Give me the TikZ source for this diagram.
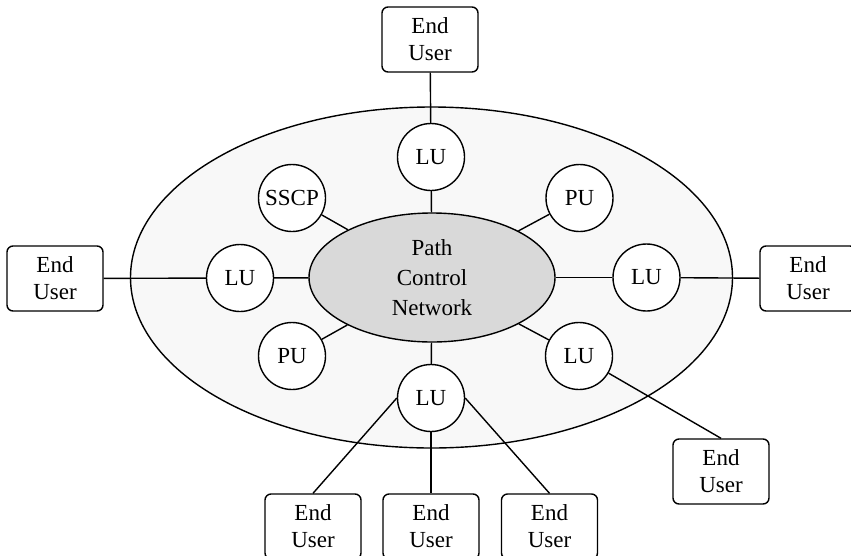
\documentclass[tikz,border=0pt]{standalone}
\usepackage{fontspec}
\setmainfont{Liberation Serif}
\usetikzlibrary{shapes.geometric}
\definecolor{outerfill}{HTML}{F8F8F8}
\definecolor{innerfill}{HTML}{D9D9D9}
\begin{document}
\begin{tikzpicture}[x=1pt,y=-1pt,
  every node/.style={font=\fontsize{23}{27}\selectfont},
  line width=1.4pt,
  userbox/.style={draw, rounded corners=6pt, minimum width=96pt, minimum height=65pt, inner sep=0pt, align=center, fill=white},
  unit/.style={draw, circle, minimum size=67pt, inner sep=0pt, fill=white},
  link/.style={line width=1.4pt}]
\clip (0,0) rectangle (851,555);
\useasboundingbox (0,0) rectangle (851,555);
\node[draw, ellipse, fill=outerfill, minimum width=602pt, minimum height=341pt] (net) at (431.5,277.5) {};
\node[draw, ellipse, fill=innerfill, minimum width=246pt, minimum height=129pt, align=center, inner sep=0pt, font=\fontsize{23}{30}\selectfont] (pcn) at (432,277.5) {Path\\Control\\Network};
\node[unit] (luT) at (431,157) {LU};
\node[unit] (sscp) at (292,198) {SSCP};
\node[unit] (puTR) at (579.5,198) {PU};
\node[unit] (luL) at (240,278) {LU};
\node[unit] (luR) at (646.5,277.5) {LU};
\node[unit] (puBL) at (292,356) {PU};
\node[unit] (luBR) at (579,356) {LU};
\node[unit] (luB) at (431,398) {LU};
\node[userbox] (euT) at (430,39.5) {End\\User};
\node[userbox] (euL) at (55,278.5) {End\\User};
\node[userbox] (euR) at (808,278.5) {End\\User};
\node[userbox] (euBR) at (721,471.5) {End\\User};
\node[userbox] (eu1) at (313,526.5) {End\\User};
\node[userbox] (eu2) at (431,526.5) {End\\User};
\node[userbox] (eu3) at (549.5,526.5) {End\\User};
\draw[link] (euT) -- (luT);
\draw[link] (luT) -- (pcn);
\draw[link] (euL) -- (luL);
\draw[link] (luL) -- (pcn);
\draw[link] (euR) -- (luR);
\draw[link] (luR) -- (pcn);
\draw[link] (sscp) -- (pcn);
\draw[link] (puTR) -- (pcn);
\draw[link] (puBL) -- (pcn);
\draw[link] (luBR) -- (pcn);
\draw[link] (luB) -- (pcn);
\draw[link] (luBR) -- (euBR.north);
\draw[link] (luB.west) -- (eu1.north);
\draw[link] (luB) -- (eu2);
\draw[link] (luB.east) -- (eu3.north);
\end{tikzpicture}
\end{document}
